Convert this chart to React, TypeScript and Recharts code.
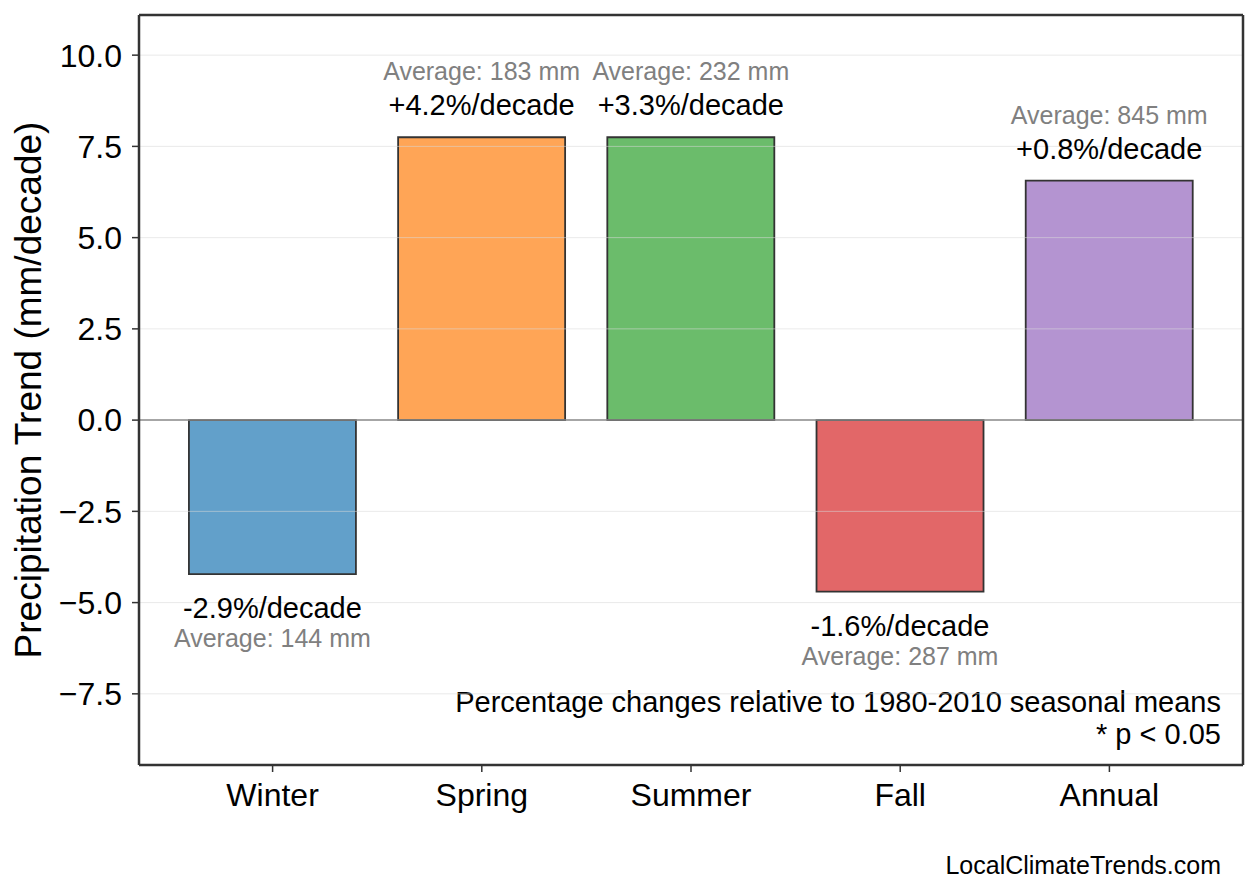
import React from 'react';
import { BarChart, Bar, XAxis, YAxis, Cell, LabelList, ReferenceLine, Customized } from 'recharts';

const categories = ['Winter', 'Spring', 'Summer', 'Fall', 'Annual'];
const trendValues = [-4.22, 7.75, 7.75, -4.70, 6.56];
const pctPerDecade = [-2.9, 4.2, 3.3, -1.6, 0.8];
const seasonalAverages = [144, 183, 232, 287, 845];
const yTicks = [-7.5, -5, -2.5, 0, 2.5, 5, 7.5, 10];
const yDomain = [-9.45, 11.1];
const barColors = ['#1f77b4', '#ff7f0e', '#2ca02c', '#d62728', '#9467bd'];

const FONT = '"Liberation Sans", Arial, Helvetica, sans-serif';

const data = categories.map((c, i) => ({
  category: c,
  trend: trendValues[i],
}));

const fmtPct = (p: number) => `${p > 0 ? '+' : ''}${p.toFixed(1)}%/decade`;
const fmtTick = (v: number) => (v < 0 ? '\u2212' + Math.abs(v).toFixed(1) : v.toFixed(1));

const BarLabel = (props: any) => {
  const vb = props.viewBox && props.viewBox.x !== undefined ? props.viewBox : props;
  const { x, y, width, height } = vb;
  const index = props.index;
  if (x === undefined || index === undefined) return null;
  const cx = x + width / 2;
  const top = Math.min(y, y + height);
  const bottom = Math.max(y, y + height);
  const positive = trendValues[index] >= 0;
  const pctY = positive ? top - 22 : bottom + 44;
  const avgY = positive ? top - 57 : bottom + 73;
  return (
    <g>
      <text x={cx} y={pctY} textAnchor="middle" fontSize={29} fill="#000" fontFamily={FONT}>
        {fmtPct(pctPerDecade[index])}
      </text>
      <text x={cx} y={avgY} textAnchor="middle" fontSize={25} fill="#808080" fontFamily={FONT}>
        {`Average: ${seasonalAverages[index]} mm`}
      </text>
    </g>
  );
};

const Annotations = () => (
  <g fontFamily={FONT}>
    <text transform="rotate(-90)" x={-390} y={41} textAnchor="middle" fontSize={37} fill="#000">
      Precipitation Trend (mm/decade)
    </text>
    <text x={1221} y={712} textAnchor="end" fontSize={29} fill="#000">
      Percentage changes relative to 1980-2010 seasonal means
    </text>
    <text x={1221} y={744} textAnchor="end" fontSize={29} fill="#000">
      * p &lt; 0.05
    </text>
    <text x={1221} y={874} textAnchor="end" fontSize={25} fill="#000">
      LocalClimateTrends.com
    </text>
  </g>
);

export default function App() {
  const frame = { stroke: '#333', strokeWidth: 2.5 };
  return (
    <div style={{ position: 'absolute', left: 0, top: 0, width: 1258, height: 893, background: '#fff' }}>
      <BarChart
        width={1258}
        height={893}
        data={data}
        margin={{ top: 14, right: 14, bottom: 0, left: 0 }}
        barCategoryGap="10%"
      >
        <XAxis
          dataKey="category"
          height={128}
          padding={{ left: 29, right: 29 }}
          interval={0}
          tickSize={7}
          tickMargin={11}
          axisLine={frame}
          tickLine={{ stroke: '#333', strokeWidth: 1.5 }}
          tick={{ fill: '#000', fontSize: 32, fontFamily: FONT }}
        />
        <XAxis
          xAxisId="top"
          orientation="top"
          dataKey="category"
          height={1}
          tick={false}
          tickLine={false}
          axisLine={frame}
        />
        <YAxis
          type="number"
          width={139}
          domain={yDomain}
          allowDataOverflow
          ticks={yTicks}
          interval={0}
          tickFormatter={fmtTick}
          tickSize={7}
          tickMargin={10}
          axisLine={frame}
          tickLine={{ stroke: '#333', strokeWidth: 1.5 }}
          tick={{ fill: '#000', fontSize: 32, fontFamily: FONT }}
        />
        <YAxis
          yAxisId="right"
          orientation="right"
          type="number"
          domain={yDomain}
          allowDataOverflow
          width={1}
          tick={false}
          tickLine={false}
          axisLine={frame}
        />
        <Bar dataKey="trend" stroke="#333" strokeWidth={1.8} fillOpacity={0.7} isAnimationActive={false}>
          {data.map((d, i) => (
            <Cell key={d.category} fill={barColors[i]} />
          ))}
          <LabelList dataKey="trend" content={BarLabel} />
        </Bar>
        {yTicks
          .filter((t) => t !== 0)
          .map((t) => (
            <ReferenceLine key={t} y={t} stroke="#d8d8d8" strokeOpacity={0.55} strokeWidth={1} />
          ))}
        <ReferenceLine y={0} stroke="#888" strokeWidth={1.5} />
        <Customized component={Annotations} />
      </BarChart>
    </div>
  );
}
